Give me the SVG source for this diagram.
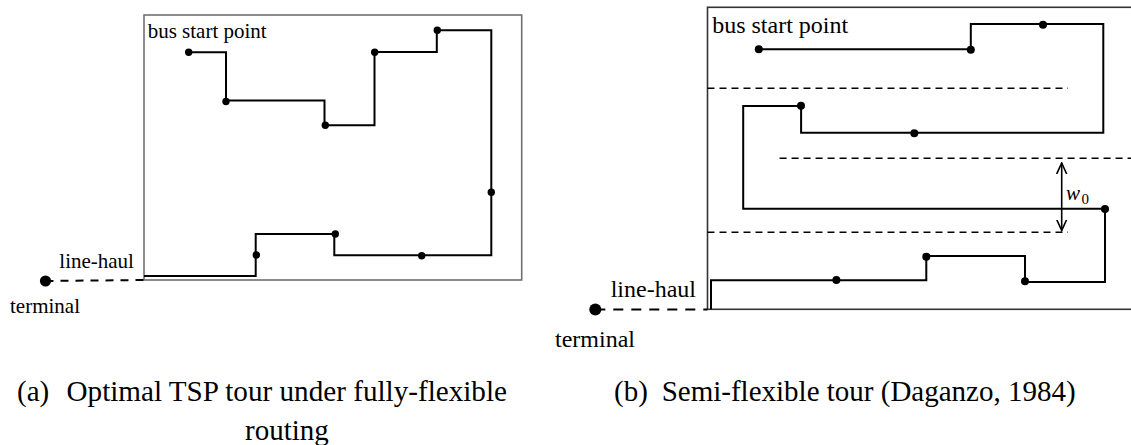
<svg xmlns="http://www.w3.org/2000/svg" width="1131" height="445" viewBox="0 0 1131 445">
<style>
.route{fill:none;stroke:#000;stroke-width:2;stroke-linejoin:miter}
.frameA{fill:none;stroke:#707070;stroke-width:1.6}
.frameB{fill:none;stroke:#333;stroke-width:1.6}
.dash{fill:none;stroke:#000;stroke-width:1.6;stroke-dasharray:7 5}
.haul{fill:none;stroke:#000;stroke-width:2;stroke-dasharray:8 7}
.dot{fill:#000}
.lblA{font-family:"Liberation Serif","Times New Roman",serif;font-size:21px;fill:#000}
.lblB{font-family:"Liberation Serif","Times New Roman",serif;font-size:24px;fill:#000}
.cap{font-family:"Liberation Serif","Times New Roman",serif;font-size:29px;fill:#000}
</style>
<defs>
<marker id="vhead" viewBox="0 0 12 12" refX="11" refY="6" markerWidth="12" markerHeight="12" markerUnits="userSpaceOnUse" orient="auto-start-reverse">
<path d="M0 1 L11 6 L0 11" fill="none" stroke="#000" stroke-width="1.6"/>
</marker>
</defs>

<g id="panel-a">
<rect id="area-a" class="frameA" x="144" y="15" width="377.7" height="265"/>
<g id="connectors-a">
<path class="route" d="M188.7 52.3 H226 V100.5 H324.5 V125.3 H374.5 V52 H436.8 V30.3 H491.3 V255.3 H334.3 V234 H255.7 V276 H144"/>
<path class="haul" d="M45.5 281 L144 280"/>
</g>
<g id="stops-a">
<circle class="dot" cx="188.7" cy="52.3" r="3.7"/>
<circle class="dot" cx="226" cy="101.5" r="3.7"/>
<circle class="dot" cx="325.3" cy="125.3" r="3.7"/>
<circle class="dot" cx="374.7" cy="52.3" r="3.7"/>
<circle class="dot" cx="437.3" cy="30.3" r="3.7"/>
<circle class="dot" cx="491.3" cy="192.3" r="3.7"/>
<circle class="dot" cx="421.7" cy="255.7" r="3.7"/>
<circle class="dot" cx="335.3" cy="234" r="3.7"/>
<circle class="dot" cx="256.3" cy="255" r="3.7"/>
</g>
<g id="terminal-a">
<circle class="dot" cx="45.5" cy="281" r="5.6"/>
<text class="lblA" x="10" y="312.5">terminal</text>
</g>
<text class="lblA" x="147.7" y="38.3">bus start point</text>
<text class="lblA" x="59.3" y="268.3">line-haul</text>
</g>

<g id="panel-b">
<rect id="area-b" class="frameB" x="707.5" y="7.3" width="440" height="302"/>
<g id="strips-b">
<line class="dash" x1="707.5" y1="88.3" x2="1068" y2="88.3"/>
<line class="dash" x1="779.6" y1="158.3" x2="1131" y2="158.3"/>
<line class="dash" x1="707.5" y1="232.3" x2="1068" y2="232.3"/>
</g>
<g id="connectors-b">
<path class="route" d="M758.8 49.3 H970.8 V24 H1103.3 V132.7 H801.1 V106 H743.2 V208.7 H1105 V282 H1025 V256 H926.3 V280.3 H711 V309.3"/>
<path class="haul" d="M595.3 309.6 H707.5" style="stroke-dasharray:10 8"/>
<line x1="1061.7" y1="163" x2="1061.7" y2="230.5" stroke="#000" stroke-width="1.6" marker-start="url(#vhead)" marker-end="url(#vhead)"/>
</g>
<g id="stops-b">
<circle class="dot" cx="758.8" cy="49.3" r="4"/>
<circle class="dot" cx="970.8" cy="49.7" r="4"/>
<circle class="dot" cx="1043" cy="24.7" r="4"/>
<circle class="dot" cx="914.3" cy="133.3" r="4"/>
<circle class="dot" cx="801" cy="105.7" r="4"/>
<circle class="dot" cx="1105" cy="209" r="4"/>
<circle class="dot" cx="1025" cy="281.3" r="4"/>
<circle class="dot" cx="926.3" cy="256.7" r="4"/>
<circle class="dot" cx="836.4" cy="280" r="4"/>
</g>
<g id="terminal-b">
<circle class="dot" cx="595.3" cy="309.6" r="6"/>
<text class="lblB" x="555" y="346.7">terminal</text>
</g>
<text class="lblB" x="712.2" y="33.3">bus start point</text>
<text class="lblB" x="610.7" y="296.7">line-haul</text>
<text x="1066" y="199.5" font-family="'Liberation Serif',serif" font-style="italic" font-size="21">w</text>
<text x="1081.5" y="203.5" font-family="'Liberation Serif',serif" font-size="15">0</text>
</g>

<g id="captions">
<text class="cap" x="17" y="401">(a)</text>
<text class="cap" x="66.5" y="401" textLength="440.5" lengthAdjust="spacingAndGlyphs">Optimal TSP tour under fully-flexible</text>
<text class="cap" x="245" y="440">routing</text>
<text class="cap" x="614" y="401">(b)</text>
<text class="cap" x="661.7" y="401">Semi-flexible tour (Daganzo, 1984)</text>
</g>
</svg>
